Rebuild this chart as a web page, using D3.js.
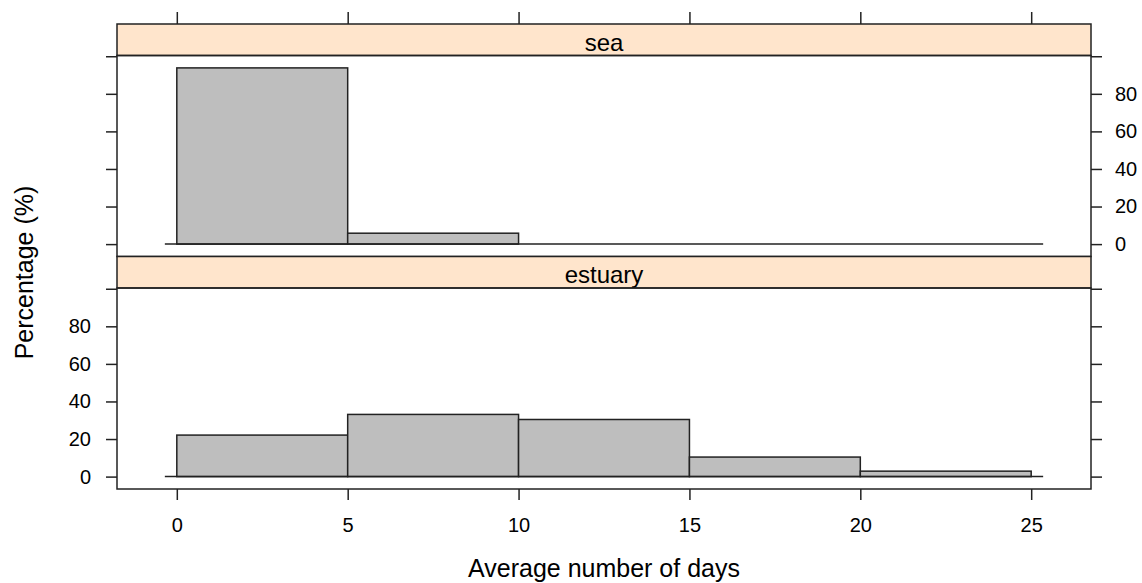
<!DOCTYPE html>
<html>
<head>
<meta charset="utf-8">
<script src="https://cdn.jsdelivr.net/npm/d3@7"></script>
<style>
  body { margin: 0; background: #fff; }
  text { font-family: "Liberation Sans", Arial, sans-serif; fill: #000; }
</style>
</head>
<body>
<svg id="chart"></svg>
<script>
// histogram data (percent of fish per bin)
const breaks = [0, 5, 10, 15, 20, 25];
const panelNames = ["sea", "estuary"];
const seaValues = [93.8, 5.8, 0, 0, 0];
const estuaryValues = [22.1, 33.1, 30.4, 10.4, 2.9];
const xTicks = [0, 5, 10, 15, 20, 25];
const yTicks = [0, 20, 40, 60, 80, 100];
const yLabels = ["0", "20", "40", "60", "80", ""];
const xDomain = [-1.75, 26.75];
const yDomain = [-6.6, 100.4];
const baselineRange = [-0.35, 25.35];

const width = 1142;
const height = 583;
const frame = { left: 117, right: 1091, top: 24 };
const stripH = 31.5;
const panelH = 201;
const tickLen = 11;

const svg = d3.select("#chart")
    .attr("width", width)
    .attr("height", height);

const x = d3.scaleLinear().domain(xDomain).range([frame.left, frame.right]);

// sea on top, estuary below
const panels = [
    { name: panelNames[0], values: seaValues, top: frame.top },
    { name: panelNames[1], values: estuaryValues, top: frame.top + stripH + panelH }
];

panels.forEach(function(p, i) {
    const g = svg.append("g");
    const pTop = p.top + stripH;
    const y = d3.scaleLinear().domain(yDomain).range([pTop + panelH, pTop]);

    // strip
    g.append("rect")
        .attr("x", frame.left).attr("y", p.top)
        .attr("width", frame.right - frame.left).attr("height", stripH)
        .attr("fill", "#ffe5cc").attr("stroke", "#222").attr("stroke-width", 1.5);
    g.append("text")
        .attr("x", (frame.left + frame.right) / 2)
        .attr("y", p.top + stripH - 5)
        .attr("text-anchor", "middle")
        .style("font-size", "24px")
        .text(p.name);

    // bars
    const bins = p.values.map((v, k) => ({ x0: breaks[k], x1: breaks[k + 1], v: v }));
    g.selectAll("rect.bar")
        .data(bins)
        .enter().append("rect")
        .attr("class", "bar")
        .attr("x", d => x(d.x0))
        .attr("width", d => x(d.x1) - x(d.x0))
        .attr("y", d => y(d.v))
        .attr("height", d => y(0) - y(d.v))
        .attr("fill", "#bebebe")
        .attr("stroke", "#222")
        .attr("stroke-width", 1.5);

    // zero line
    g.append("line")
        .attr("x1", x(baselineRange[0])).attr("x2", x(baselineRange[1]))
        .attr("y1", y(0)).attr("y2", y(0))
        .attr("stroke", "#222").attr("stroke-width", 1.5);

    // panel frame
    g.append("rect")
        .attr("x", frame.left).attr("y", pTop)
        .attr("width", frame.right - frame.left).attr("height", panelH)
        .attr("fill", "none").attr("stroke", "#222").attr("stroke-width", 1.5);

    // y axes: labels alternate sides
    const left = d3.axisLeft(y).tickValues(yTicks).tickSize(tickLen).tickPadding(15)
        .tickFormat((d, k) => i === 1 ? yLabels[k] : "");
    const right = d3.axisRight(y).tickValues(yTicks).tickSize(tickLen).tickPadding(13)
        .tickFormat((d, k) => i === 0 ? yLabels[k] : "");
    [g.append("g").attr("transform", `translate(${frame.left},0)`).call(left),
     g.append("g").attr("transform", `translate(${frame.right},0)`).call(right)]
        .forEach(function(ax) {
            ax.select(".domain").remove();
            ax.selectAll("line").attr("stroke", "#222").attr("stroke-width", 1.5);
            ax.selectAll("text").style("font-size", "20px").attr("fill", "#000")
                .attr("font-family", null);
        });
});

// x axes: top ticks only, bottom with labels
const bottomY = frame.top + 2 * (stripH + panelH);
const xTop = svg.append("g")
    .attr("transform", `translate(0,${frame.top})`)
    .call(d3.axisTop(x).tickValues(xTicks).tickSize(tickLen + 1).tickFormat(""));
const xBottom = svg.append("g")
    .attr("transform", `translate(0,${bottomY})`)
    .call(d3.axisBottom(x).tickValues(xTicks).tickSize(tickLen).tickPadding(18));
[xTop, xBottom].forEach(function(ax) {
    ax.select(".domain").remove();
    ax.selectAll("line").attr("stroke", "#222").attr("stroke-width", 1.5);
    ax.selectAll("text").style("font-size", "20px").attr("fill", "#000")
        .attr("font-family", null);
});

// axis titles
svg.append("text")
    .attr("x", (frame.left + frame.right) / 2)
    .attr("y", 577)
    .attr("text-anchor", "middle")
    .style("font-size", "25px")
    .text("Average number of days");

svg.append("text")
    .attr("transform", `translate(33,${frame.top + stripH + panelH + 16}) rotate(-90)`)
    .attr("text-anchor", "middle")
    .style("font-size", "25px")
    .text("Percentage (%)");
</script>
</body>
</html>
